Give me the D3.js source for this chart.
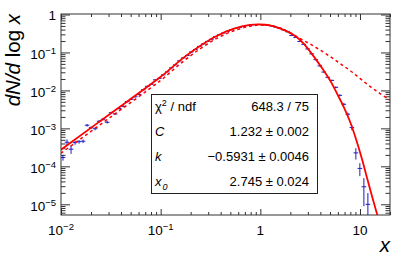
<!DOCTYPE html>
<html><head><meta charset="utf-8">
<script src="https://cdn.jsdelivr.net/npm/d3@7"></script>
<style>body{margin:0;background:#fff}svg{display:block}</style>
</head><body>
<svg id="c" width="407" height="254"></svg>
<script>
// ---- data ----
const binX = [0.01047,0.01149,0.01261,0.01383,0.01518,0.01665,0.01827,0.02004,0.02199,0.02413,
0.02647,0.02904,0.03186,0.03495,0.03835,0.04207,0.04616,0.05064,0.05556,0.06095,
0.06687,0.07336,0.08048,0.0883,0.09685,0.1063,0.1166,0.1279,0.1403,0.1539,
0.1689,0.1853,0.2033,0.223,0.2446,0.2684,0.2944,0.323,0.3544,0.3888,
0.4266,0.468,0.5134,0.5632,0.618,0.678,0.7438,0.8161,0.8953,0.9824,
1.078,1.182,1.297,1.423,1.562,1.713,1.88,2.062,2.263,2.482,
2.724,2.988,3.279,3.597,3.947,4.33,4.751,5.212,5.718,6.274,
6.883,7.551,8.285,9.085,9.968,10.94,12.0];
const binY = [1.71e-4,4.32e-4,2.83e-4,4.20e-4,4.46e-4,4.59e-4,1.21e-3,1.04e-3,9.79e-4,1.54e-3,
1.74e-3,1.45e-3,2.58e-3,2.40e-3,3.33e-3,3.82e-3,5.08e-3,5.83e-3,6.79e-3,7.90e-3,
0.01037,0.01282,0.01446,0.0190,0.0208,0.0257,0.0308,0.0393,0.0471,0.0600,
0.0719,0.0836,0.1033,0.1202,0.1442,0.1679,0.1950,0.2230,0.2612,0.2924,
0.3243,0.3597,0.3963,0.4313,0.4550,0.4842,0.5108,0.5330,0.5395,0.5458,
0.5330,0.5200,0.4989,0.4637,0.4313,0.3915,0.3508,0.2806,0.2488,0.1950,
0.1629,0.1240,0.0916,0.0645,0.0443,0.0305,0.0221,0.0184,0.01206,7.43e-3,
4.31e-3,2.36e-3,1.05e-3,2.26e-4,8.81e-5,2.89e-5,9.97e-6];
const binErr = [3e-5,8e-5,7e-5,5e-5,5e-5,5e-5,1.0e-4,9e-5,9e-5,1.2e-4,
1.2e-4,1.1e-4,1.6e-4,1.5e-4,2e-4,2.2e-4,2.6e-4,2.8e-4,3e-4,3.4e-4,
4e-4,4.6e-4,5e-4,6e-4,6.4e-4,7.5e-4,8.5e-4,1e-3,1.1e-3,1.3e-3,
1.5e-3,1.6e-3,1.9e-3,2.1e-3,2.4e-3,2.7e-3,3e-3,3.3e-3,3.7e-3,4e-3,
4.3e-3,4.6e-3,5e-3,5.3e-3,5.5e-3,5.8e-3,6e-3,6.2e-3,6.2e-3,6.3e-3,
6.2e-3,6.1e-3,6e-3,5.7e-3,5.4e-3,5e-3,4.7e-3,4.2e-3,3.9e-3,3.4e-3,
3e-3,2.6e-3,2.2e-3,1.8e-3,1.5e-3,1.2e-3,1e-3,8e-4,6e-4,4.5e-4,
3.4e-4,2.4e-4,1.6e-4,7.5e-5,3.3e-5,2.0e-5,9.8e-6];

const fitX = [0.01,0.0317,0.1,0.1685,0.2478,0.3645,0.5349,0.7864,0.9908,1.248,1.573,1.835,2.312,2.694,3.145,3.67,4.274,5.107,6.002,6.895,7.92,9.097,10.45,12.0,13.79,15.12,16.2];
const fitY = [2.75e-4,2.50e-3,0.0228,0.0719,0.1486,0.2723,0.4159,0.5297,0.5458,0.514,0.4285,0.364,0.2563,0.175,0.1066,0.0618,0.0348,0.0168,7.43e-3,3.60e-3,1.54e-3,5.35e-4,1.59e-4,4.08e-5,1.08e-5,4.62e-6,2.38e-6];

const altX = [0.01,0.0317,0.1,0.1685,0.2478,0.3645,0.5349,0.7864,0.9908,1.248,1.573,1.98,2.49,3.14,3.96,4.99,6.28,7.92,9.98,12.57,15.8,20];
const altY = [2.22e-4,2.02e-3,0.0184,0.0582,0.124,0.234,0.368,0.49,0.530,0.514,0.442,0.33,0.234,0.168,0.117,0.0787,0.0515,0.0337,0.0208,0.0128,8.4e-3,5.5e-3];

const xTicks = [0.01,0.1,1,10];
const xTickBase = ["10","10","1","10"];
const xTickExp = ["−2","−1","",""];
const yTicks = [1e-5,1e-4,1e-3,1e-2,1e-1,1];
const yTickBase = ["10","10","10","10","10","1"];
const yTickExp = ["−5","−4","−3","−2","−1",""];

const statNames = ["chi2","C","k","x0"];
const statValues = ["648.3 / 75","1.232 ± 0.002","−0.5931 ± 0.0046","2.745 ± 0.024"];

const xDomain = [0.01, 20];
const yDomain = [5.22e-6, 1.031];

// ---- layout ----
const L = 61, R = 390, T = 14, B = 215;
const FONT = "'Liberation Sans', Arial, Helvetica, sans-serif";
const svg = d3.select("#c");
svg.append("rect").attr("width",407).attr("height",254).attr("fill","#fff");

const x = d3.scaleLog().domain(xDomain).range([L, R]);
const y = d3.scaleLog().domain(yDomain).range([B, T]);

svg.append("defs").append("clipPath").attr("id","clip")
  .append("rect").attr("x",L).attr("y",T).attr("width",R-L).attr("height",B-T);

function minors(dom){
  const out=[]; const lo=Math.floor(Math.log10(dom[0])), hi=Math.ceil(Math.log10(dom[1]));
  for(let e=lo;e<=hi;e++) for(let m=2;m<=9;m++){const v=m*Math.pow(10,e); if(v>=dom[0]&&v<=dom[1]) out.push(v);}
  return out;
}
const tickColor = "#333";
function styleAxis(g){ g.select(".domain").remove(); g.selectAll(".tick line").attr("stroke",tickColor).attr("stroke-width",1); }

svg.append("g").attr("transform",`translate(0,${B})`).call(d3.axisBottom(x).tickValues(xTicks).tickSize(-6).tickFormat("")).call(styleAxis);
svg.append("g").attr("transform",`translate(0,${B})`).call(d3.axisBottom(x).tickValues(minors(xDomain)).tickSize(-3).tickFormat("")).call(styleAxis);
svg.append("g").attr("transform",`translate(0,${T})`).call(d3.axisTop(x).tickValues(xTicks).tickSize(-6).tickFormat("")).call(styleAxis);
svg.append("g").attr("transform",`translate(0,${T})`).call(d3.axisTop(x).tickValues(minors(xDomain)).tickSize(-3).tickFormat("")).call(styleAxis);
svg.append("g").attr("transform",`translate(${L},0)`).call(d3.axisLeft(y).tickValues(yTicks).tickSize(-9).tickFormat("")).call(styleAxis);
svg.append("g").attr("transform",`translate(${L},0)`).call(d3.axisLeft(y).tickValues(minors(yDomain)).tickSize(-4.5).tickFormat("")).call(styleAxis);
svg.append("g").attr("transform",`translate(${R},0)`).call(d3.axisRight(y).tickValues(yTicks).tickSize(-9).tickFormat("")).call(styleAxis);
svg.append("g").attr("transform",`translate(${R},0)`).call(d3.axisRight(y).tickValues(minors(yDomain)).tickSize(-4.5).tickFormat("")).call(styleAxis);

svg.append("rect").attr("x",L).attr("y",T).attr("width",R-L).attr("height",B-T)
  .attr("fill","none").attr("stroke",tickColor).attr("stroke-width",1);

const xl = svg.append("g").attr("font-family",FONT).attr("font-size",13.5).attr("fill","#000");
xTicks.forEach((v,i)=>{
  const t = xl.append("text").attr("x",x(v)).attr("y",235).attr("text-anchor","middle");
  t.append("tspan").text(xTickBase[i]);
  if(xTickExp[i]) t.append("tspan").attr("font-size",9.5).attr("dy",-5.5).text(xTickExp[i]);
});
const yl = svg.append("g").attr("font-family",FONT).attr("font-size",13.5).attr("fill","#000");
yTicks.forEach((v,i)=>{
  const t = yl.append("text").attr("x",56).attr("y",y(v)+(yTickExp[i]?7:5)).attr("text-anchor","end");
  t.append("tspan").text(yTickBase[i]);
  if(yTickExp[i]) t.append("tspan").attr("font-size",9.5).attr("dy",-5.5).text(yTickExp[i]);
});

const yt = svg.append("text").attr("transform",`translate(20,${T}) rotate(-90)`)
  .attr("text-anchor","end").attr("font-family",FONT).attr("font-size",20.5);
yt.append("tspan").attr("font-style","italic").text("dN/d");
yt.append("tspan").text(" log ");
yt.append("tspan").attr("font-style","italic").text("x");
svg.append("text").attr("x",R).attr("y",251.5).attr("text-anchor","end")
  .attr("font-family",FONT).attr("font-size",20.5).attr("font-style","italic").text("x");

const plot = svg.append("g").attr("clip-path","url(#clip)");
const pts = binX.map((v,i)=>({x:v,y:binY[i],e:binErr[i]}));
const ptColor = "#1c1cc8";
plot.append("g").selectAll("line").data(pts).join("line")
  .attr("x1",d=>x(d.x)).attr("x2",d=>x(d.x))
  .attr("y1",d=>y(d.y+d.e))
  .attr("y2",d=> d.y-d.e>yDomain[0]*0.2 ? y(d.y-d.e) : B+5)
  .attr("stroke",ptColor).attr("stroke-width",1);
plot.append("g").selectAll("line").data(pts).join("line")
  .attr("x1",d=>x(d.x)-2.3).attr("x2",d=>x(d.x)+2.3)
  .attr("y1",d=>y(d.y)).attr("y2",d=>y(d.y))
  .attr("stroke",ptColor).attr("stroke-width",1);

const line = d3.line().x(d=>x(d[0])).y(d=>y(d[1])).curve(d3.curveCatmullRom.alpha(0.5));
plot.append("path").datum(altX.map((v,i)=>[v,altY[i]])).attr("d",line)
  .attr("fill","none").attr("stroke","#ff0000").attr("stroke-width",1.5).attr("stroke-dasharray","3,3");
plot.append("path").datum(fitX.map((v,i)=>[v,fitY[i]])).attr("d",line)
  .attr("fill","none").attr("stroke","#ff0000").attr("stroke-width",1.8);

const bx=151, by=94, bw=166, bh=99;
svg.append("rect").attr("x",bx+0.5).attr("y",by+0.5).attr("width",bw).attr("height",bh)
  .attr("fill","#fff").attr("stroke","#222").attr("stroke-width",1);
const st = svg.append("g").attr("font-family",FONT).attr("font-size",13).attr("fill","#000");
const rowY = [111,136,161,186];
statNames.forEach((n,i)=>{
  const t = st.append("text").attr("x",155).attr("y",rowY[i]);
  if(n==="chi2"){ t.append("tspan").text("χ"); t.append("tspan").attr("font-size",9).attr("dy",-5).text("2"); t.append("tspan").attr("dy",5).text(" / ndf"); }
  else if(n==="x0"){ t.append("tspan").attr("font-style","italic").text("x"); t.append("tspan").attr("font-style","italic").attr("font-size",9).attr("dy",3.5).attr("dx",1).text("0"); }
  else t.append("tspan").attr("font-style","italic").text(n);
  st.append("text").attr("x",309).attr("y",rowY[i]).attr("text-anchor","end").text(statValues[i]);
});
</script>
</body></html>
